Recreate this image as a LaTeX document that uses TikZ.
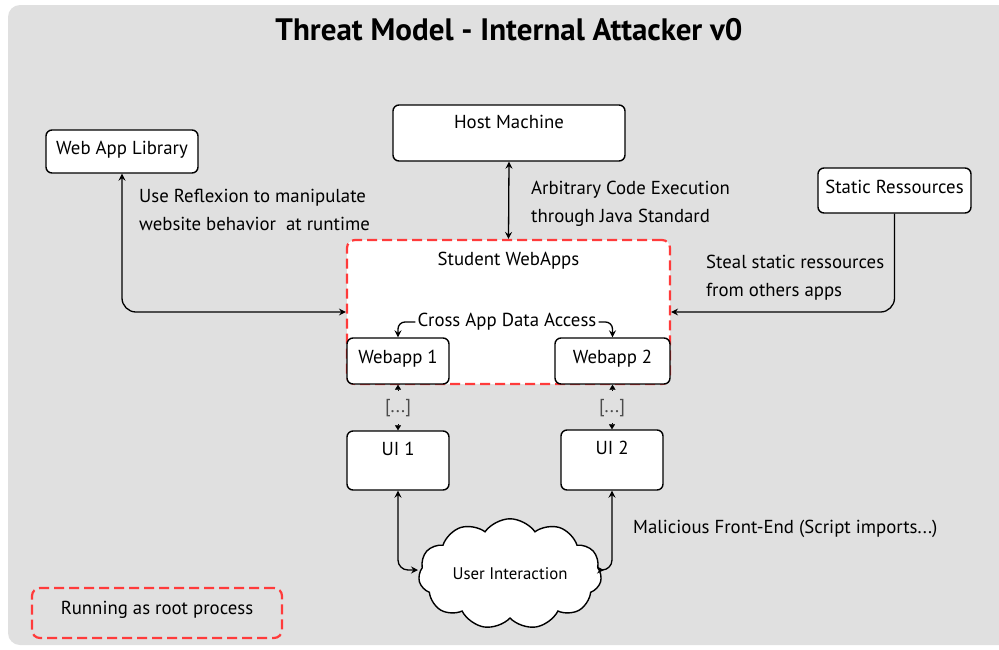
\documentclass[tikz,border=0pt]{standalone}
\usepackage{fontspec}
\setmainfont{PT Sans}
\usetikzlibrary{arrows.meta,shapes.symbols,calc}
\definecolor{panel}{HTML}{E0E0E0}
\definecolor{dred}{HTML}{FF3B3B}
\begin{document}
\begin{tikzpicture}[x=1pt,y=-1pt,
  font=\fontsize{18.8}{28}\selectfont,
  >={Stealth[length=7pt,width=7pt,inset=2.5pt]},
  box/.style={draw,fill=white,line width=1.4pt,rounded corners=6pt,inner sep=0pt,text height=13pt,text depth=8pt},
  redbox/.style={draw=dred,line width=2.2pt,dash pattern=on 10pt off 5pt,rounded corners=8pt,inner sep=0pt},
  conn/.style={line width=1.3pt},
  note/.style={align=left,anchor=west,inner sep=0pt},
  dots/.style={text=black!70,inner sep=0pt},
  tri/.style={-{Triangle[length=5pt,width=6pt]},line width=0.3pt}
]
\useasboundingbox (0,0) rectangle (999,649);
\fill[white] (0,0) rectangle (999,649);
\fill[panel,rounded corners=12pt] (8,5) rectangle (1020,645);

\node[font=\fontsize{31}{34}\selectfont\bfseries] (title) at (509,30) {Threat Model - Internal Attacker v0};

% main container
\node[redbox,fill=white,minimum width=323,minimum height=144,
  label={[anchor=north,yshift=-10pt,text height=13pt,text depth=4pt]north:Student WebApps}] (sw) at (508.5,312) {};

\node[box,minimum width=152,minimum height=43] (wal) at (122,151.5) {Web App Library};
\node[box,minimum width=232,minimum height=56,text height=0pt,text depth=0pt,
  label={[anchor=north,yshift=-7.5pt,text height=13pt,text depth=4pt]north:Host Machine}] (hm) at (509,133) {};
\node[box,minimum width=153,minimum height=45] (sr) at (894.5,190.5) {Static Ressources};

\node[box,minimum width=102,minimum height=46] (w1) at (398,361) {Webapp 1};
\node[box,minimum width=115,minimum height=46] (w2) at (612.5,361) {Webapp 2};

\node[box,minimum width=102,minimum height=59,text height=0pt,text depth=0pt,
  label={[anchor=north,yshift=-8.5pt,text height=13pt,text depth=4pt]north:UI 1}] (ui1) at (398,460.5) {};
\node[box,minimum width=102,minimum height=60,text height=0pt,text depth=0pt,
  label={[anchor=north,yshift=-8.5pt,text height=13pt,text depth=4pt]north:UI 2}] (ui2) at (612,460) {};

\node[cloud,draw,fill=white,line width=1.4pt,cloud puffs=11,cloud puff arc=110,aspect=1.8,
  minimum width=183,minimum height=106,inner sep=0pt,font=\fontsize{16.8}{18}\selectfont] (cl) at (510,574) {User Interaction};

\node[draw=dred,line width=2.2pt,dash pattern=on 10pt off 5pt,rounded corners=8pt,
  minimum width=250,minimum height=50,inner sep=0pt,text height=13pt,text depth=11pt] (root) at (157,613) {Running as root process};

% cross app
\node[inner sep=2pt] (cad) at (507,322) {Cross App Data Access};
\draw[conn,->,rounded corners=7pt] (cad.west) -| (w1.north);
\draw[conn,->,rounded corners=7pt] (cad.east) -| (w2.north);

% connectors
\draw[conn,<->,rounded corners=14pt] (wal.south) |- (sw.west);
\draw[conn,->,rounded corners=14pt] (sr.south) |- (sw.east);
\draw[conn,<->] (hm.south) -- (sw.north);

\coordinate (c1) at (418,570);
\coordinate (c2) at (604,570);
\draw[conn,<->,rounded corners=10pt] (ui1.south) |- (c1);
\draw[conn,<->,rounded corners=10pt] (ui2.south) |- (c2);

% [...] links
\node[dots] (d1) at (398,408) {[...]};
\node[dots] (d2) at (612,408) {[...]};
\draw[tri] ($(w1.south)+(0,6)$) -- (w1.south);
\draw[tri] ($(ui1.north)+(0,-6)$) -- (ui1.north);
\draw[tri] ($(w2.south)+(0,6)$) -- (w2.south);
\draw[tri] ($(ui2.north)+(0,-6)$) -- (ui2.north);

% notes
\node[note] (n1) at (139,210) {Use Reflexion to manipulate\\website behavior\ \ at runtime};
\node[note] (n2) at (531,204) {Arbitrary Code Execution\\through Java Standard};
\node[note] (n3) at (706,278) {Steal static ressources\\from others apps};
\node[note] (n4) at (633,529) {Malicious Front-End (Script imports...)};
\end{tikzpicture}
\end{document}
